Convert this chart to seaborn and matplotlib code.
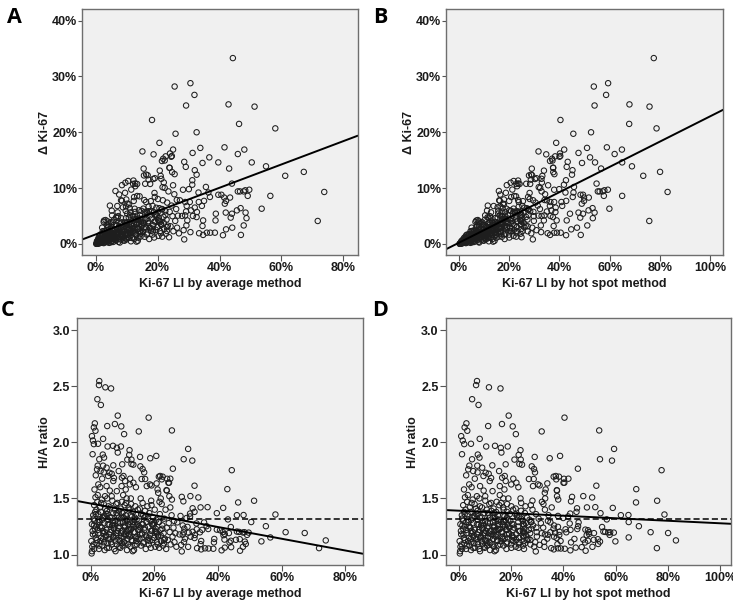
import numpy as np
import pandas as pd
import matplotlib
matplotlib.use("Agg")
import matplotlib.pyplot as plt
import seaborn as sns
from matplotlib.ticker import FuncFormatter, FixedLocator

sns.set_theme(style="white")
plt.rcParams['font.family'] = ['Liberation Sans', 'DejaVu Sans']

# ---------------- data (Ki-67 labelling index, %) ----------------
# cases with low average LI, read as (average LI, hot/average ratio)
avg_out = [2.7, 2.6, 4.6, 6.4, 2.1, 3.2, 8.5, 18.2, 1.3, 1.0,
           1.5, 7.6, 5.2, 9.6, 15.1, 25.5, 0.4, 0.7, 1.0, 2.3,
           3.9, 10.5, 7.0, 5.3, 8.2, 9.5, 8.5, 0.6, 3.8, 12.2,
           12.1, 15.5, 18.7, 20.6, 4.2, 2.7, 11.5, 12.8, 25.8, 15.6,
           16.3, 9.9, 12.8, 13.4, 7.1, 2.2, 3.9, 5.0, 1.6, 2.0,
           3.1, 4.1, 5.9, 8.8, 16.8, 21.4, 22.6, 22.3, 16.0, 17.1,
           25.0, 3.6, 12.4, 9.8, 7.3, 19.1, 20.7, 21.0, 23.8, 5.5,
           6.6, 5.0, 10.3, 10.8, 9.7, 12.3, 13.4, 21.8, 24.4, 2.4,
           7.1, 8.2, 17.6, 18.6, 21.2, 24.0, 24.6, 23.9, 14.2, 11.0,
           6.0, 3.0, 1.2]
ratio_out = [2.546, 2.51, 2.49, 2.48, 2.384, 2.333, 2.238, 2.22, 2.169, 2.133,
             2.103, 2.163, 2.145, 2.142, 2.097, 2.106, 2.055, 2.016, 1.984, 1.987,
             2.031, 2.073, 1.969, 1.963, 1.951, 1.963, 1.909, 1.894, 1.891, 1.93,
             1.888, 1.87, 1.858, 1.879, 1.864, 1.849, 1.846, 1.846, 1.765, 1.786,
             1.762, 1.804, 1.807, 1.801, 1.795, 1.792, 1.792, 1.774, 1.706, 1.759,
             1.744, 1.732, 1.729, 1.744, 1.732, 1.694, 1.694, 1.67, 1.673, 1.673,
             1.676, 1.676, 1.676, 1.685, 1.682, 1.616, 1.634, 1.58, 1.574, 1.70,
             1.72, 1.61, 1.70, 1.655, 1.61, 1.625, 1.64, 1.70, 1.64, 1.625,
             1.655, 1.565, 1.61, 1.625, 1.55, 1.675, 1.64, 1.57, 1.60, 1.58,
             1.57, 1.60, 1.58]

avg_core = [0.3, 0.5, 0.6, 0.8, 0.9, 1.1, 1.2, 1.4, 1.5, 1.7,
            1.8, 2.0, 2.1, 2.3, 2.4, 2.6, 2.8, 2.9, 0.4, 1.0,
            1.6, 2.2, 3.1, 3.2, 3.4, 3.5, 3.7, 3.8, 4.0, 4.1,
            4.3, 4.4, 4.6, 4.7, 4.9, 5.0, 5.2, 5.3, 5.5, 5.6,
            5.8, 5.9, 3.3, 3.9, 4.5, 5.1, 5.7, 4.2, 6.1, 6.2,
            6.4, 6.5, 6.7, 6.8, 7.0, 7.1, 7.3, 7.4, 7.6, 7.7,
            7.9, 8.0, 8.2, 8.3, 8.5, 8.6, 8.8, 8.9, 6.6, 7.2,
            7.8, 8.4, 9.1, 9.2, 9.4, 9.5, 9.7, 9.8, 10.0, 10.1,
            10.3, 10.4, 10.6, 10.7, 10.9, 11.0, 11.2, 11.3, 11.5, 11.6,
            11.8, 11.9, 9.3, 9.9, 10.5, 11.1, 11.7, 10.2, 10.8, 11.4,
            12.1, 12.2, 12.4, 12.5, 12.7, 12.8, 13.0, 13.1, 13.3, 13.4,
            13.6, 13.7, 13.9, 14.0, 14.2, 14.3, 14.5, 14.6, 14.8, 14.9,
            12.6, 13.2, 13.8, 14.4, 15.1, 15.3, 15.4, 15.6, 15.8, 15.9,
            16.1, 16.3, 16.4, 16.6, 16.8, 16.9, 17.1, 17.3, 17.4, 17.6,
            17.8, 17.9, 15.7, 16.5, 18.1, 18.3, 18.4, 18.6, 18.8, 18.9,
            19.1, 19.3, 19.4, 19.6, 19.8, 19.9, 20.1, 20.3, 20.4, 20.6,
            20.8, 20.9, 19.0, 20.0, 21.1, 21.3, 21.5, 21.7, 21.9, 22.1,
            22.3, 22.5, 22.7, 22.9, 23.1, 23.3, 23.5, 23.7, 23.9, 22.0,
            23.0, 21.6, 24.2, 24.5, 24.8, 25.1, 25.4, 25.7, 26.0, 26.3,
            26.6, 26.9, 24.7, 25.5, 26.2, 25.0]
ratio_core = [1.01, 1.07, 1.21, 1.35, 1.09, 1.44, 1.30, 1.18, 1.51, 1.25,
              1.40, 1.13, 1.47, 1.22, 1.36, 1.05, 1.29, 1.42, 1.03, 1.26,
              1.15, 1.53, 1.12, 1.38, 1.24, 1.49, 1.08, 1.33, 1.19, 1.45,
              1.28, 1.04, 1.41, 1.16, 1.36, 1.22, 1.50, 1.10, 1.31, 1.43,
              1.18, 1.27, 1.46, 1.14, 1.52, 1.39, 1.06, 1.34, 1.20, 1.42,
              1.11, 1.33, 1.26, 1.48, 1.15, 1.37, 1.23, 1.05, 1.40, 1.30,
              1.17, 1.45, 1.09, 1.35, 1.21, 1.28, 1.13, 1.39, 1.52, 1.24,
              1.03, 1.46, 1.25, 1.12, 1.41, 1.19, 1.33, 1.47, 1.08, 1.29,
              1.38, 1.16, 1.24, 1.44, 1.10, 1.35, 1.21, 1.50, 1.14, 1.31,
              1.27, 1.42, 1.06, 1.37, 1.18, 1.46, 1.22, 1.53, 1.32, 1.04,
              1.18, 1.40, 1.29, 1.07, 1.45, 1.23, 1.34, 1.12, 1.38, 1.26,
              1.04, 1.31, 1.20, 1.43, 1.15, 1.36, 1.09, 1.27, 1.40, 1.22,
              1.50, 1.03, 1.33, 1.16, 1.30, 1.14, 1.41, 1.24, 1.08, 1.36,
              1.19, 1.46, 1.27, 1.11, 1.33, 1.22, 1.39, 1.05, 1.17, 1.29,
              1.43, 1.13, 1.50, 1.35, 1.25, 1.09, 1.37, 1.18, 1.30, 1.06,
              1.44, 1.21, 1.13, 1.33, 1.26, 1.15, 1.40, 1.07, 1.23, 1.31,
              1.11, 1.19, 1.48, 1.28, 1.17, 1.29, 1.06, 1.36, 1.22, 1.12,
              1.45, 1.26, 1.08, 1.19, 1.32, 1.14, 1.40, 1.05, 1.24, 1.50,
              1.10, 1.47, 1.13, 1.28, 1.20, 1.09, 1.35, 1.16, 1.24, 1.11,
              1.19, 1.07, 1.52, 1.49, 1.30, 1.42]

avg_core2 = [0.2, 0.4, 0.7, 0.9, 1.1, 1.3, 1.6, 1.9, 2.2, 2.5,
             2.7, 3.0, 3.3, 3.6, 3.9, 4.2, 4.5, 4.8, 5.1, 5.4,
             5.7, 6.0, 6.3, 6.6, 6.9, 7.2, 7.5, 7.8, 8.1, 8.4,
             8.7, 9.0, 9.3, 9.6, 9.9, 10.2, 10.5, 10.8, 11.1, 11.4,
             11.7, 12.0, 12.3, 12.6, 12.9, 13.2, 13.5, 13.8, 14.1, 14.4,
             14.7, 15.0, 15.5, 16.0, 16.5, 17.0, 17.5, 18.0, 18.5, 19.0,
             19.5, 20.0, 20.5, 21.0, 21.5, 22.0, 22.5, 23.0, 1.4, 2.6,
             3.5, 4.4, 5.3, 6.2, 7.1, 8.0, 8.9, 9.8, 10.7, 11.6,
             12.5, 13.4, 14.3, 15.2, 16.2, 17.2, 18.2, 19.2, 20.2, 21.2]
ratio_core2 = [1.12, 1.27, 1.18, 1.32, 1.05, 1.23, 1.36, 1.10, 1.29, 1.19,
               1.08, 1.25, 1.15, 1.31, 1.21, 1.11, 1.34, 1.17, 1.06, 1.27,
               1.14, 1.33, 1.22, 1.09, 1.30, 1.16, 1.26, 1.12, 1.37, 1.19,
               1.24, 1.07, 1.28, 1.15, 1.21, 1.33, 1.11, 1.25, 1.18, 1.30,
               1.09, 1.23, 1.16, 1.35, 1.13, 1.27, 1.20, 1.08, 1.25, 1.31,
               1.14, 1.22, 1.18, 1.27, 1.10, 1.24, 1.16, 1.32, 1.12, 1.21,
               1.27, 1.15, 1.20, 1.09, 1.29, 1.17, 1.23, 1.13, 1.38, 1.31,
               1.24, 1.20, 1.36, 1.14, 1.28, 1.19, 1.33, 1.10, 1.26, 1.17,
               1.22, 1.29, 1.12, 1.25, 1.18, 1.34, 1.15, 1.27, 1.21, 1.16]

# cases with higher average LI, read as (average LI, hot - average difference)
avg_hi = [44.3, 30.6, 31.9, 29.2, 42.9, 51.3, 46.3, 58.0, 32.6, 41.6,
          33.8, 48.0, 45.9, 31.3, 36.7, 34.5, 39.6, 50.4, 55.0, 43.1,
          28.6, 29.1, 32.0, 32.6, 61.2, 67.2, 31.2, 31.2, 44.0, 28.2,
          30.1, 33.2, 35.6, 36.4, 36.9, 39.6, 40.6, 41.5, 42.1, 41.7,
          45.9, 46.6, 47.8, 48.3, 49.6, 49.1, 43.4, 73.8, 56.4, 53.6,
          46.8, 45.6, 48.4, 48.7, 43.6, 44.0, 42.0, 42.1, 44.1, 46.9,
          47.8, 41.1, 35.0, 34.3, 33.3, 30.4, 28.9, 29.4, 32.0, 30.8,
          29.2, 32.7, 31.4, 32.6, 28.9, 27.9, 29.6, 34.7, 34.5, 38.8,
          38.7, 29.3, 28.4, 30.6, 33.4, 34.7, 35.9, 37.0, 38.5, 28.6,
          71.7, 27.2]
delta_hi = [33.3, 28.8, 26.7, 24.8, 25.0, 24.6, 21.5, 20.7, 20.0, 17.3,
            17.2, 16.9, 16.1, 16.3, 15.5, 14.5, 14.6, 14.6, 13.9, 13.5,
            14.7, 13.8, 13.2, 12.4, 12.2, 12.9, 11.4, 10.6, 10.8, 9.7,
            9.8, 9.2, 10.2, 9.2, 8.4, 8.8, 8.8, 8.3, 7.7, 7.2,
            9.4, 9.4, 9.4, 9.6, 9.7, 8.6, 8.3, 9.3, 8.6, 6.3,
            6.4, 6.0, 5.6, 4.6, 4.7, 5.4, 5.6, 2.6, 2.9, 1.6,
            3.3, 1.55, 7.7, 6.8, 7.5, 7.5, 7.5, 6.8, 6.5, 6.0,
            5.8, 5.7, 5.0, 4.8, 5.1, 5.0, 4.2, 4.2, 3.2, 5.4,
            4.2, 3.3, 2.45, 2.1, 1.9, 1.6, 2.0, 2.0, 2.0, 0.8,
            4.1, 7.8]

# reference H/A ratio drawn as the dashed line in panels C and D
ha_reference = 1.314

pct_ticks_avg = [0, 20, 40, 60, 80]
pct_ticks_hot = [0, 20, 40, 60, 80, 100]
delta_ticks = [0, 10, 20, 30, 40]
ratio_ticks = [1.0, 1.5, 2.0, 2.5, 3.0]
panel_letters = ["A", "B", "C", "D"]

# ---------------- derived table ----------------
avg_lo = np.array(avg_out + avg_core + avg_core2)
rat_lo = np.array(ratio_out + ratio_core + ratio_core2)
avg = np.concatenate([avg_lo, np.array(avg_hi)])
delta = np.concatenate([avg_lo * (rat_lo - 1), np.array(delta_hi)])
df = pd.DataFrame({"avg": avg, "delta": delta})
df["hot"] = df["avg"] + df["delta"]
df["ratio"] = df["hot"] / df["avg"]

# ---------------- figure ----------------
W, H = 733, 603
fig = plt.figure(figsize=(W / 100, H / 100), dpi=100)

def add_ax(l, t, r, b):
    return fig.add_axes([l / W, 1 - b / H, (r - l) / W, (b - t) / H])

axes = [add_ax(82, 9, 357.7, 255), add_ax(446, 9, 723.3, 255),
        add_ax(77.3, 318.3, 362.7, 565), add_ax(446, 318.3, 731, 565)]

specs = [
    dict(x="avg", y="delta", xlim=(-4.4, 84.6), ylim=(-2.0, 42.1), xt=pct_ticks_avg,
         yt=delta_ticks, xl="Ki-67 LI by average method", yl="Δ Ki-67", pct_y=True,
         hline=False, lpad=0.4, ytl=3.0, ypad=0.5),
    dict(x="hot", y="delta", xlim=(-5.2, 105.3), ylim=(-2.0, 42.1), xt=pct_ticks_hot,
         yt=delta_ticks, xl="Ki-67 LI by hot spot method", yl="Δ Ki-67", pct_y=True,
         hline=False, lpad=0.4, ytl=3.0, ypad=0.5),
    dict(x="avg", y="ratio", xlim=(-4.2, 85.4), ylim=(0.907, 3.105), xt=pct_ticks_avg,
         yt=ratio_ticks, xl="Ki-67 LI by average method", yl="H/A ratio", pct_y=False,
         hline=True, lpad=1.2, ytl=4.5, ypad=0.8),
    dict(x="hot", y="ratio", xlim=(-5.0, 104.2), ylim=(0.907, 3.105), xt=pct_ticks_hot,
         yt=ratio_ticks, xl="Ki-67 LI by hot spot method", yl="H/A ratio", pct_y=False,
         hline=True, lpad=1.2, ytl=4.5, ypad=0.8),
]

pct_fmt = FuncFormatter(lambda v, p: f"{v:.0f}%")
ratio_fmt = FuncFormatter(lambda v, p: f"{v:.1f}")

for ax, sp in zip(axes, specs):
    ax.set_facecolor("#f0f0f0")
    ax.set_xlim(*sp["xlim"])
    ax.set_ylim(*sp["ylim"])
    sns.regplot(data=df, x=sp["x"], y=sp["y"], ax=ax, ci=None, truncate=False,
                scatter_kws=dict(s=15, facecolors="none", edgecolors="#1e1e1e",
                                 linewidths=0.75, alpha=1),
                line_kws=dict(color="black", lw=1.4))
    ax.set_xlim(*sp["xlim"])
    ax.set_ylim(*sp["ylim"])
    if sp["hline"]:
        ax.axhline(ha_reference, color="black", lw=1.1, ls=(0, (4, 2)))
    ax.xaxis.set_major_locator(FixedLocator(sp["xt"]))
    ax.yaxis.set_major_locator(FixedLocator(sp["yt"]))
    ax.xaxis.set_major_formatter(pct_fmt)
    ax.yaxis.set_major_formatter(pct_fmt if sp["pct_y"] else ratio_fmt)
    ax.tick_params(axis="both", direction="out", bottom=True, left=True,
                   width=0.8, color="#555555", labelsize=9, labelcolor="#1a1a1a")
    ax.tick_params(axis="y", length=sp["ytl"], pad=sp["ypad"])
    ax.tick_params(axis="x", length=4, pad=1.2)
    for lab in ax.get_xticklabels() + ax.get_yticklabels():
        lab.set_fontweight("bold")
    ax.set_xlabel(sp["xl"], fontsize=9, fontweight="bold", color="#1a1a1a", labelpad=2.8)
    ax.set_ylabel(sp["yl"], fontsize=9, fontweight="bold", color="#1a1a1a",
                  labelpad=sp["lpad"])
    for s in ax.spines.values():
        s.set_visible(True)
        s.set_color("#6e6e6e")
        s.set_linewidth(1.0)

letter_pos = [(7, 23), (373, 23), (1, 316), (372, 316)]
for letter, (lx, ly) in zip(panel_letters, letter_pos):
    fig.text(lx / W, 1 - ly / H, letter, fontsize=15.5, fontweight="bold",
             family=["Open Sans", "DejaVu Sans"], ha="left", va="baseline", color="black")

fig.savefig("out.png", dpi=100)
